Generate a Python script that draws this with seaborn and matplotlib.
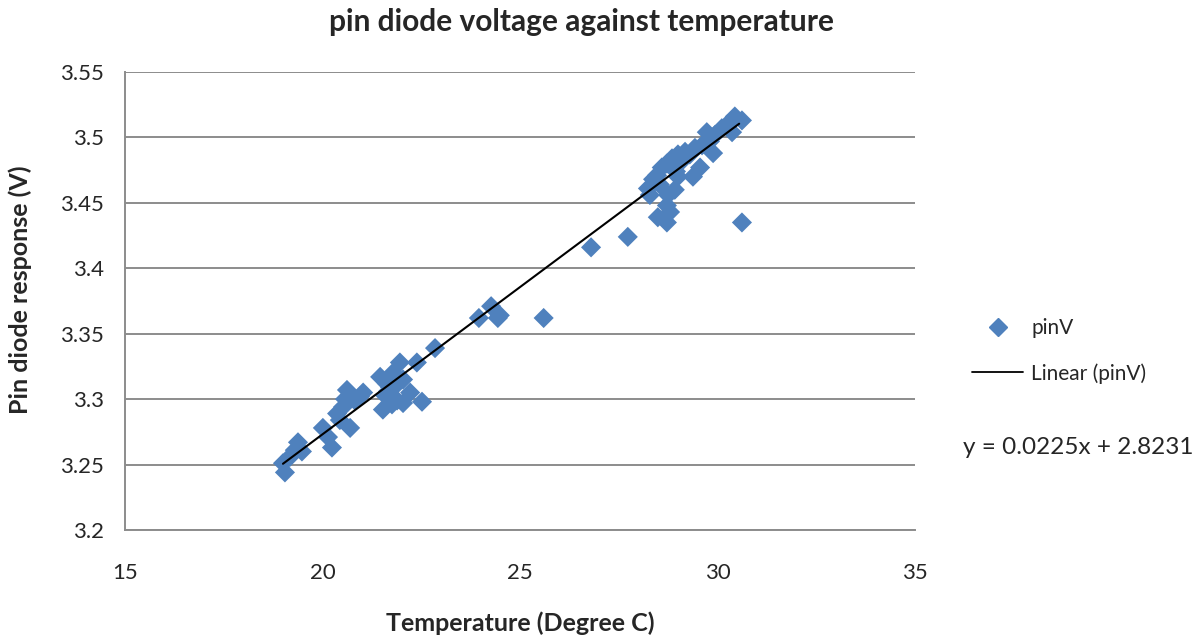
import numpy as np
import pandas as pd
import matplotlib
matplotlib.use("Agg")
import matplotlib.pyplot as plt
import seaborn as sns
from matplotlib.lines import Line2D

# temperature (deg C) and pin diode voltage (V)
temperature = [
    # low cluster
    19.05, 19.0, 19.18, 19.38, 19.3, 19.48, 20.24, 20.01, 20.14, 20.44,
    20.62, 20.70, 20.82, 21.03, 20.52, 20.37, 20.95, 20.57, 21.53, 21.46,
    21.71, 21.96, 22.04, 22.22, 21.89, 22.04, 22.39, 22.52, 21.63, 21.58,
    21.78, 21.84, 21.66, 21.76, 22.85,
    # middle
    23.96, 24.27, 24.49, 24.44, 25.6, 26.8, 27.73,
    # high cluster
    30.62, 30.44, 30.37, 30.11, 29.94, 29.73, 29.81, 29.61, 29.43, 29.30,
    29.18, 29.0, 28.85, 28.72, 28.59, 28.47, 28.37, 28.24, 28.29, 29.38,
    29.56, 29.89, 28.92, 28.75, 28.72, 28.80, 28.49, 28.72, 30.62, 29.0,
    28.54, 30.25, 29.1, 28.95,
]
voltage = [
    3.244, 3.251, 3.256, 3.267, 3.261, 3.260, 3.263, 3.278, 3.271, 3.284,
    3.307, 3.278, 3.299, 3.305, 3.294, 3.289, 3.302, 3.300, 3.292, 3.317,
    3.309, 3.328, 3.315, 3.305, 3.299, 3.297, 3.328, 3.298, 3.312, 3.303,
    3.320, 3.310, 3.306, 3.296, 3.339,
    3.362, 3.371, 3.364, 3.362, 3.362, 3.416, 3.424,
    3.513, 3.516, 3.504, 3.507, 3.502, 3.504, 3.497, 3.494, 3.492, 3.487,
    3.489, 3.487, 3.484, 3.480, 3.477, 3.471, 3.468, 3.461, 3.456, 3.470,
    3.477, 3.488, 3.460, 3.456, 3.448, 3.443, 3.439, 3.435, 3.435, 3.470,
    3.464, 3.510, 3.482, 3.474,
]

slope = 0.0225
intercept = 2.8231

df = pd.DataFrame({"Temperature": temperature, "pinV": voltage})

sns.set_style("white")
plt.rcParams["font.family"] = ["Lato", "DejaVu Sans"]

fig = plt.figure(figsize=(11.96, 6.36), dpi=100)
ax = fig.add_axes([0.1045, 0.1667, 0.6605, 0.7201])

blue = "#4F81BD"
sns.scatterplot(data=df, x="Temperature", y="pinV", marker="D", s=105,
                color=blue, edgecolor="none", ax=ax, zorder=3)

trend_x = np.array([19.0, 30.55])
sns.lineplot(x=trend_x, y=slope * trend_x + intercept, color="black",
             linewidth=1.5, ax=ax, zorder=4)

ax.set_xlim(15, 35)
ax.set_ylim(3.2, 3.55)
ax.set_xticks([15, 20, 25, 30, 35])
ax.set_yticks([3.2, 3.25, 3.3, 3.35, 3.4, 3.45, 3.5, 3.55])
ax.set_yticklabels(["3.2", "3.25", "3.3", "3.35", "3.4", "3.45", "3.5", "3.55"])

ax.grid(axis="y", color="#8C8C8C", linewidth=1.4)
ax.grid(axis="x", visible=False)
ax.set_axisbelow(True)
for side in ["top", "right"]:
    ax.spines[side].set_visible(False)
for side in ["left", "bottom"]:
    ax.spines[side].set_color("#8C8C8C")
    ax.spines[side].set_linewidth(1.4)
ax.tick_params(axis="both", which="both", length=0, labelsize=16)
ax.tick_params(axis="x", pad=24)
ax.tick_params(axis="y", pad=15)

fig.text(0.486, 0.965, "pin diode voltage against temperature", fontsize=21.5,
         fontweight="bold", ha="center", va="center")
ax.set_xlabel("Temperature (Degree C)", fontsize=18, fontweight="bold")
ax.xaxis.set_label_coords(0.5, -0.203)
ax.xaxis.label.set_va("center")
ax.set_ylabel("Pin diode response (V)", fontsize=18, fontweight="bold")
ax.yaxis.set_label_coords(-0.133, 0.524)
ax.yaxis.label.set_va("center")

handles = [
    Line2D([], [], marker="D", color=blue, linestyle="none", markersize=9.5),
    Line2D([], [], color="black", linewidth=1.3),
]
fig.legend(handles, ["pinV", "Linear (pinV)"], loc="upper left",
           bbox_to_anchor=(972 / 1196, 1 - 318 / 636), frameon=False,
           fontsize=15, handlelength=2.45, handletextpad=0.4,
           labelspacing=1.2, borderpad=0, borderaxespad=0)
fig.text(1078 / 1196, 1 - 447 / 636, "y = 0.0225x + 2.8231", fontsize=17.5,
         ha="center", va="center")

fig.savefig("out.png", dpi=100)
